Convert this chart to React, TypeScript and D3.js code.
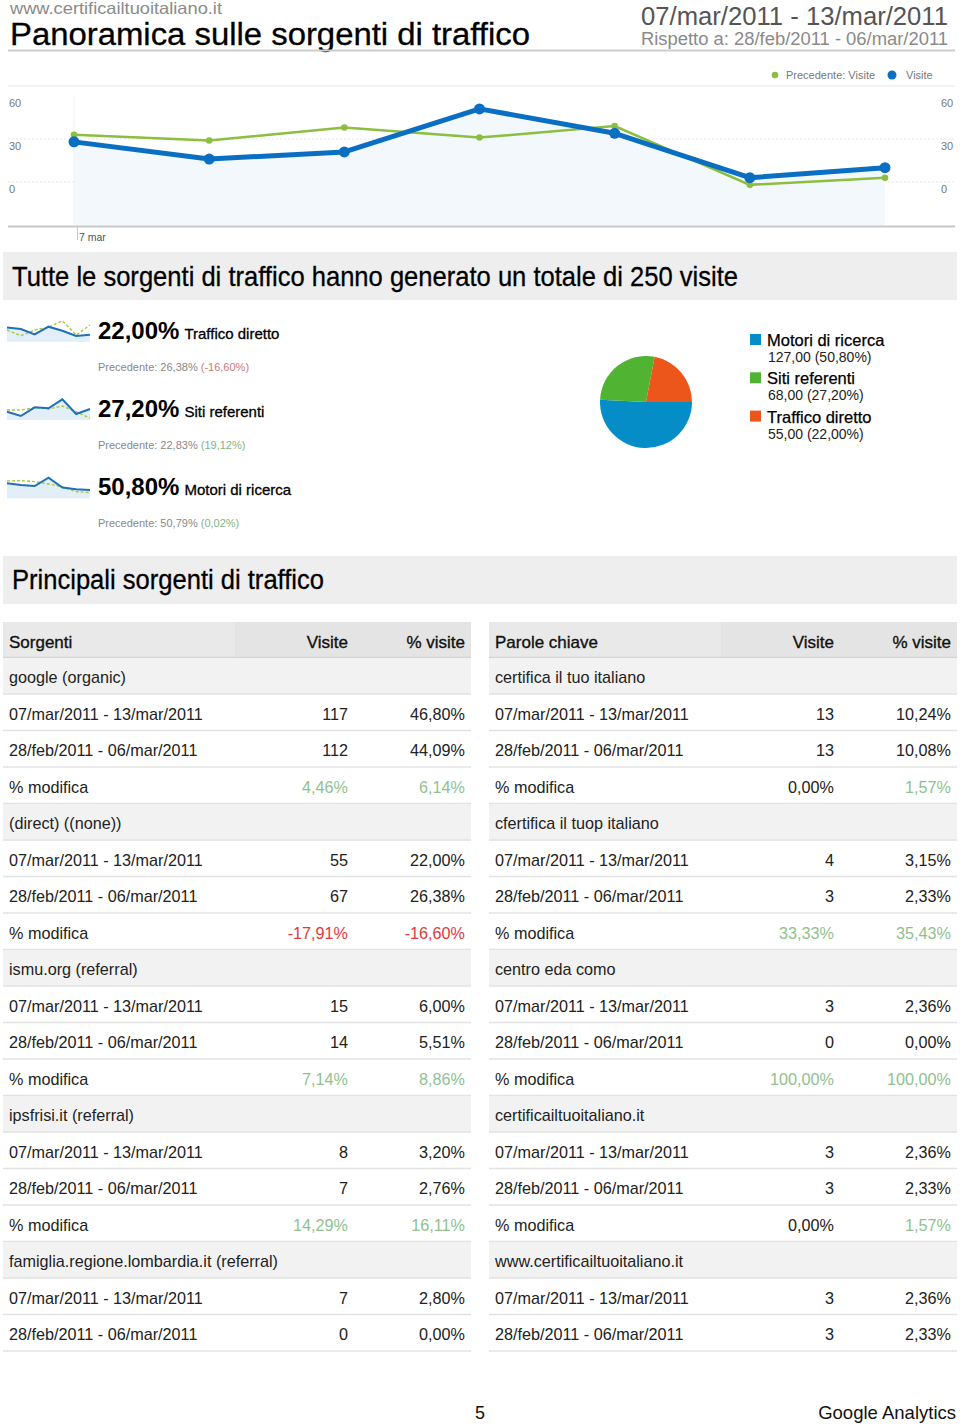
import React from "react";
import * as d3 from "d3";

const FONT = "'Liberation Sans', Arial, Helvetica, sans-serif";

// ---- line chart data ----
const days = ["7 mar", "8 mar", "9 mar", "10 mar", "11 mar", "12 mar", "13 mar"];
const visits = [28, 16, 21, 51, 34, 3, 10];
const prevVisits = [33, 29, 38, 31, 39, -2, 3];
const yTicks = [0, 30, 60];

// ---- sparklines (relative heights) ----
const sparkDirectCur = [14.3, 12.7, 7.3, 15, 11, 5.7, 7];
const sparkDirectPrev = [11.7, 6, 11.7, 14.3, 21, 6.7, 16.7];
const sparkRefCur = [8.3, 4, 12.7, 11.7, 20.7, 6, 11];
const sparkRefPrev = [10, 10, 12.3, 11, 14, 8.3, 1.7];
const sparkSearchCur = [15, 13.3, 12.3, 20.7, 10.7, 9, 8.3];
const sparkSearchPrev = [17.3, 17.7, 16.7, 14.3, 11.7, 6.7, 5.7];

const summaryPct = ["22,00%", "27,20%", "50,80%"];
const summaryName = ["Traffico diretto", "Siti referenti", "Motori di ricerca"];
const summaryPrev = ["26,38%", "22,83%", "50,79%"];
const summaryChange = ["-16,60%", "19,12%", "0,02%"];

// ---- pie ----
const pieLabels = ["Motori di ricerca", "Siti referenti", "Traffico diretto"];
const pieValues = [127, 68, 55];
const pieText = ["127,00 (50,80%)", "68,00 (27,20%)", "55,00 (22,00%)"];
const pieColors = ["#058DC7", "#50B432", "#ED561B"];

// ---- tables ----
const sources = ["google (organic)", "(direct) ((none))", "ismu.org (referral)", "ipsfrisi.it (referral)", "famiglia.regione.lombardia.it (referral)"];
const srcVisitsCur = ["117", "55", "15", "8", "7"];
const srcPctCur = ["46,80%", "22,00%", "6,00%", "3,20%", "2,80%"];
const srcVisitsPrev = ["112", "67", "14", "7", "0"];
const srcPctPrev = ["44,09%", "26,38%", "5,51%", "2,76%", "0,00%"];
const srcChangeVisits = ["4,46%", "-17,91%", "7,14%", "14,29%", ""];
const srcChangePct = ["6,14%", "-16,60%", "8,86%", "16,11%", ""];

const keywords = ["certifica il tuo italiano", "cfertifica il tuop italiano", "centro eda como", "certificailtuoitaliano.it", "www.certificailtuoitaliano.it"];
const kwVisitsCur = ["13", "4", "3", "3", "3"];
const kwPctCur = ["10,24%", "3,15%", "2,36%", "2,36%", "2,36%"];
const kwVisitsPrev = ["13", "3", "0", "3", "3"];
const kwPctPrev = ["10,08%", "2,33%", "0,00%", "2,33%", "2,33%"];
const kwChangeVisits = ["0,00%", "33,33%", "100,00%", "0,00%", ""];
const kwChangePct = ["1,57%", "35,43%", "100,00%", "1,57%", ""];

const curLabel = "07/mar/2011 - 13/mar/2011";
const prevLabel = "28/feb/2011 - 06/mar/2011";

function changeColor(v: string) {
  if (v.startsWith("-")) return "#e0393e";
  if (v === "0,00%") return "#222";
  return "#8fc18f";
}

function Spark({ cur, prev, bottom }: { cur: number[]; prev: number[]; bottom: number }) {
  const x = d3.scalePoint<number>().domain(d3.range(cur.length)).range([7, 90]);
  const y = d3.scaleLinear().domain([0, 22]).range([bottom, bottom - 22]);
  const area = d3.area<number>().x((_, i) => x(i)!).y0(bottom).y1((d) => y(d));
  const line = d3.line<number>().x((_, i) => x(i)!).y((d) => y(d));
  return (
    <g>
      <path d={area(cur)!} fill="#e2eef8" />
      <path d={line(prev)!} fill="none" stroke="#a9c83e" strokeWidth={1.4} strokeDasharray="3,2" />
      <path d={line(cur)!} fill="none" stroke="#2070b8" strokeWidth={2} />
    </g>
  );
}

function Table({ x0, width, head, names, vc, pc, vp, pp, cv, cp, visRight, pctRight }: any) {
  const rowH = 36.5;
  const top0 = 658;
  const rows: any[] = [];
  names.forEach((n: string, g: number) => {
    rows.push({ type: "group", label: n });
    rows.push({ type: "data", label: curLabel, v: vc[g], p: pc[g], col: "#222", colP: "#222" });
    rows.push({ type: "data", label: prevLabel, v: vp[g], p: pp[g], col: "#222", colP: "#222" });
    if (cv[g]) rows.push({ type: "data", label: "% modifica", v: cv[g], p: cp[g], col: changeColor(cv[g]), colP: changeColor(cp[g]) });
  });
  return (
    <g fontFamily={FONT}>
      <rect x={x0} y={622} width={width} height={36} fill="#e4e4e4" />
      <rect x={x0} y={622} width={232} height={36} fill="#e9e9e9" />
      <line x1={x0} x2={x0 + width} y1={657.5} y2={657.5} stroke="#d4d4d4" strokeWidth={1.5} />
      <text x={x0 + 6} y={648} fontSize={17} fill="#111" stroke="#111" strokeWidth={0.35}>{head}</text>
      <text x={visRight} y={648} fontSize={17} fill="#111" textAnchor="end" stroke="#111" strokeWidth={0.35}>Visite</text>
      <text x={pctRight} y={648} fontSize={17} fill="#111" textAnchor="end" stroke="#111" strokeWidth={0.35}>% visite</text>
      {rows.map((r, i) => {
        const top = top0 + i * rowH;
        return (
          <g key={i}>
            {r.type === "group" && <rect x={x0} y={top} width={width} height={rowH} fill="#f2f2f2" />}
            <line x1={x0} x2={x0 + width} y1={top + rowH - 0.5} y2={top + rowH - 0.5} stroke="#e3e3e3" strokeWidth={1.6} />
            <text x={x0 + 6} y={top + 25} fontSize={16.2} fill="#222">{r.label}</text>
            {r.type === "data" && (
              <>
                <text x={visRight} y={top + 25} fontSize={16.2} fill={r.col} textAnchor="end">{r.v}</text>
                <text x={pctRight} y={top + 25} fontSize={16.2} fill={r.colP} textAnchor="end">{r.p}</text>
              </>
            )}
          </g>
        );
      })}
    </g>
  );
}

export default function App() {
  const W = 960, H = 1425;
  const x = d3.scalePoint<string>().domain(days).range([74, 885]);
  const y = d3.scaleLinear().domain([-30, 60]).range([225, 96]);
  const lineCur = d3.line<number>().x((_, i) => x(days[i])!).y((d) => y(d));
  const areaCur = d3.area<number>().x((_, i) => x(days[i])!).y0(225).y1((d) => y(d));

  const pie = d3.pie<number>().sort(null).startAngle(Math.PI / 2).endAngle(Math.PI / 2 + 2 * Math.PI)(pieValues);
  const arc = d3.arc<d3.PieArcDatum<number>>().innerRadius(0).outerRadius(46);

  const sparkBottoms = [341.7, 420, 498.3];
  const sparkData = [
    [sparkDirectCur, sparkDirectPrev],
    [sparkRefCur, sparkRefPrev],
    [sparkSearchCur, sparkSearchPrev],
  ];

  return (
    <svg width={W} height={H} style={{ position: "absolute", left: 0, top: 0, background: "#fff" }} fontFamily={FONT}>
      <rect width={W} height={H} fill="#fff" />
      {/* header */}
      <text x={10} y={14} fontSize={16.5} fill="#8a8a8a" textLength={212} lengthAdjust="spacingAndGlyphs">www.certificailtuoitaliano.it</text>
      <text x={10} y={45} fontSize={31} fill="#000" textLength={520} lengthAdjust="spacingAndGlyphs" stroke="#000" strokeWidth={0.3}>Panoramica sulle sorgenti di traffico</text>
      <text x={948} y={25} fontSize={26.5} fill="#555" textAnchor="end" textLength={307} lengthAdjust="spacingAndGlyphs">07/mar/2011 - 13/mar/2011</text>
      <text x={948} y={45} fontSize={17.5} fill="#8a8a8a" textAnchor="end" textLength={307} lengthAdjust="spacingAndGlyphs">Rispetto a: 28/feb/2011 - 06/mar/2011</text>
      <line x1={8} x2={955} y1={50.5} y2={50.5} stroke="#cccccc" strokeWidth={2} />

      {/* legend */}
      <circle cx={775} cy={75} r={3.3} fill="#8cbf3f" />
      <text x={786} y={79} fontSize={11} fill="#777">Precedente: Visite</text>
      <circle cx={892} cy={75} r={4.5} fill="#0a6fc2" />
      <text x={906} y={79} fontSize={11} fill="#777">Visite</text>
      <line x1={8} x2={955} y1={86} y2={86} stroke="#eeeeee" strokeWidth={1.5} />

      {/* line chart */}
      {yTicks.map((t) => (
        <g key={t}>
          {t !== 60 && <line x1={8} x2={955} y1={y(t)} y2={y(t)} stroke="#e6e6e6" strokeDasharray="2,2" />}
          <text x={9} y={y(t) + 11} fontSize={11} fill="#777">{t}</text>
          <text x={941} y={y(t) + 11} fontSize={11} fill="#777">{t}</text>
        </g>
      ))}
      <path d={areaCur(visits)!} fill="#f3f8fc" />
      <line x1={74} x2={74} y1={96} y2={225} stroke="#f0f0f0" />
      <line x1={8} x2={955} y1={226.5} y2={226.5} stroke="#c8c8c8" strokeWidth={2} />
      <line x1={77.5} x2={77.5} y1={227} y2={240} stroke="#c8c8c8" />
      <text x={79} y={241} fontSize={10.5} fill="#555">{days[0]}</text>
      <path d={lineCur(prevVisits)!} fill="none" stroke="#8cbf3f" strokeWidth={2.5} />
      {prevVisits.map((v, i) => (
        <circle key={"p" + i} cx={x(days[i])} cy={y(v)} r={3.3} fill="#8cbf3f" />
      ))}
      <path d={lineCur(visits)!} fill="none" stroke="#0a6fc2" strokeWidth={5} strokeLinejoin="round" />
      {visits.map((v, i) => (
        <circle key={"c" + i} cx={x(days[i])} cy={y(v)} r={5.5} fill="#0a6fc2" />
      ))}

      {/* banner 1 */}
      <rect x={3} y={252} width={954} height={48} fill="#eeeeee" />
      <text x={12} y={286} fontSize={28} fill="#000" textLength={726} lengthAdjust="spacingAndGlyphs" stroke="#000" strokeWidth={0.3}>Tutte le sorgenti di traffico hanno generato un totale di 250 visite</text>

      {/* summary with sparklines */}
      {sparkBottoms.map((b, i) => (
        <g key={i}>
          <Spark cur={sparkData[i][0]} prev={sparkData[i][1]} bottom={b} />
          <text x={98} y={b - 3} fontSize={24} fill="#000" fontWeight="bold">
            {summaryPct[i]}
            <tspan dx={5} fontSize={15} fontWeight="normal" stroke="#000" strokeWidth={0.3}>{summaryName[i]}</tspan>
          </text>
          <text x={98} y={b + 29} fontSize={11} fill="#888">
            {"Precedente: " + summaryPrev[i] + " "}
            <tspan fill={summaryChange[i].startsWith("-") ? "#c77a7a" : "#7fb57f"}>{"(" + summaryChange[i] + ")"}</tspan>
          </text>
        </g>
      ))}

      {/* pie */}
      <g transform="translate(646,402)">
        {pie.map((s, i) => (
          <path key={i} d={arc(s)!} fill={pieColors[i]} />
        ))}
      </g>
      {pieLabels.map((l, i) => {
        const top = 334 + i * 38.3;
        return (
          <g key={l}>
            <rect x={750} y={top} width={11} height={11} fill={pieColors[i]} />
            <text x={767} y={top + 12} fontSize={16.5} fill="#000" stroke="#000" strokeWidth={0.25}>{l}</text>
            <text x={768} y={top + 28} fontSize={14} fill="#222">{pieText[i]}</text>
          </g>
        );
      })}

      {/* banner 2 */}
      <rect x={3} y={556} width={954} height={48} fill="#eeeeee" />
      <text x={12} y={589} fontSize={27} fill="#000" textLength={312} lengthAdjust="spacingAndGlyphs" stroke="#000" strokeWidth={0.3}>Principali sorgenti di traffico</text>

      <Table x0={3} width={468} head="Sorgenti" names={sources} vc={srcVisitsCur} pc={srcPctCur} vp={srcVisitsPrev} pp={srcPctPrev} cv={srcChangeVisits} cp={srcChangePct} visRight={348} pctRight={465} />
      <Table x0={489} width={468} head="Parole chiave" names={keywords} vc={kwVisitsCur} pc={kwPctCur} vp={kwVisitsPrev} pp={kwPctPrev} cv={kwChangeVisits} cp={kwChangePct} visRight={834} pctRight={951} />

      {/* footer */}
      <text x={480} y={1419} fontSize={18} fill="#111" textAnchor="middle">5</text>
      <text x={956} y={1419} fontSize={18.5} fill="#111" textAnchor="end">Google Analytics</text>
    </svg>
  );
}
